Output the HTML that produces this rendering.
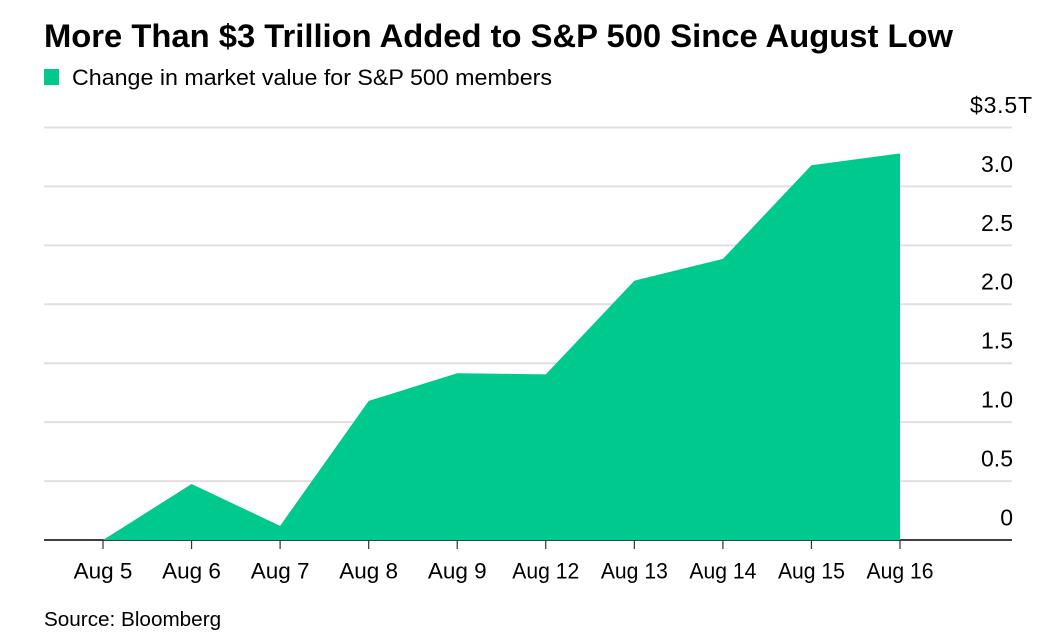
<!DOCTYPE html>
<html lang="en">
<head>
<meta charset="utf-8">
<title>More Than $3 Trillion Added to S&amp;P 500 Since August Low</title>
<style>
html,body{margin:0;padding:0;background:#fff;width:1054px;height:644px;overflow:hidden}
svg{display:block;font-family:"Liberation Sans",Arial,sans-serif}
text{fill:#000}
</style>
</head>
<body>
<svg id="chart" width="1054" height="644" viewBox="0 0 1054 644" xmlns="http://www.w3.org/2000/svg">
  <rect x="0" y="0" width="1054" height="644" fill="#ffffff"/>
  <text x="44" y="47" font-size="32" font-weight="700" textLength="909" lengthAdjust="spacingAndGlyphs">More Than $3 Trillion Added to S&amp;P 500 Since August Low</text>
  <rect x="44" y="69" width="15" height="16" fill="#00c98d"/>
  <text x="72" y="85" font-size="22" textLength="480" lengthAdjust="spacingAndGlyphs">Change in market value for S&amp;P 500 members</text>
  <g id="grid"></g>
  <line x1="44" y1="540" x2="1012" y2="540" stroke="#000" stroke-width="1.4"></line>
  <path id="area" fill="#00c98d"></path>
  <g id="xticks"></g>
  <g id="yticks"></g>
  <text x="44" y="626" font-size="20.7">Source: Bloomberg</text>
</svg>
<script>
const categories = ["Aug 5","Aug 6","Aug 7","Aug 8","Aug 9","Aug 12","Aug 13","Aug 14","Aug 15","Aug 16"];
const seriesValues = [0, 0.475, 0.12, 1.18, 1.415, 1.405, 2.20, 2.385, 3.18, 3.28];
const yTicks = [0, 0.5, 1, 1.5, 2, 2.5, 3, 3.5];
const yTickLabels = ["0","0.5","1.0","1.5","2.0","2.5","3.0","$3.5T"];

const NS = "http://www.w3.org/2000/svg";
const xScale = i => 103 + i * (900 - 103) / (categories.length - 1);
const yScale = v => 540 - v * (540 - 127.5) / 3.5;

const grid = document.getElementById("grid");
const yGroup = document.getElementById("yticks");
yTicks.forEach((t, i) => {
  const y = yScale(t);
  if (t !== 0) {
    const l = document.createElementNS(NS, "line");
    
    
    l.setAttribute("x1", 44); l.setAttribute("x2", 1012);
    l.setAttribute("y1", y); l.setAttribute("y2", y);
    l.setAttribute("stroke", "#e0e0e0"); l.setAttribute("stroke-width", 2);
    grid.appendChild(l);
  }
  const txt = document.createElementNS(NS, "text");
  const isTop = i === yTicks.length - 1;
  
  
  txt.setAttribute("x", isTop ? 970 : 1013);
  txt.setAttribute("y", y - 14.6);
  txt.setAttribute("text-anchor", isTop ? "start" : "end");
  txt.setAttribute("font-size", "23");
  if (isTop) {
    txt.setAttribute("textLength", "62");
  }
  txt.textContent = yTickLabels[i];
  yGroup.appendChild(txt);
});

let d = "M" + xScale(0) + " " + yScale(0);
seriesValues.forEach((v, i) => { d += " L" + xScale(i).toFixed(2) + " " + yScale(v).toFixed(2); });
d += " L" + xScale(categories.length - 1) + " " + yScale(0) + " Z";
document.getElementById("area").setAttribute("d", d);

const xGroup = document.getElementById("xticks");
categories.forEach((c, i) => {
  const x = xScale(i);
  const tick = document.createElementNS(NS, "line");
  
  
  tick.setAttribute("x1", x); tick.setAttribute("x2", x);
  tick.setAttribute("y1", 540); tick.setAttribute("y2", 549);
  tick.setAttribute("stroke", "#333"); tick.setAttribute("stroke-width", 1.2);
  xGroup.appendChild(tick);
  const txt = document.createElementNS(NS, "text");
  
  
  txt.setAttribute("x", x);
  txt.setAttribute("y", 578.5);
  txt.setAttribute("text-anchor", "middle");
  txt.setAttribute("font-size", "22.5");
  if (c.length > 5) {
    txt.setAttribute("textLength", "67");
    txt.setAttribute("lengthAdjust", "spacingAndGlyphs");
  }
  txt.textContent = c;
  xGroup.appendChild(txt);
});
</script>
</body>
</html>
